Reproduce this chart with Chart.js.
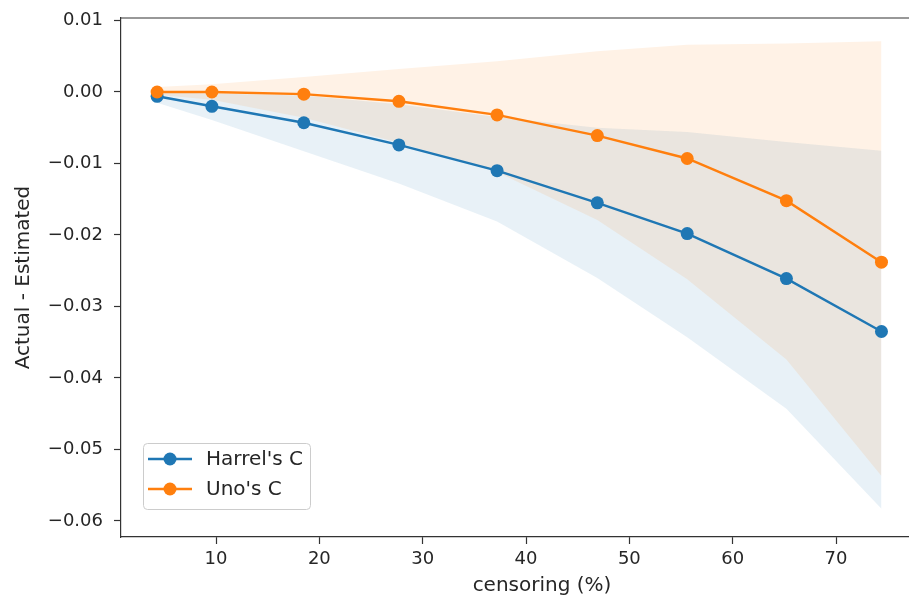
<!DOCTYPE html>
<html>
<head>
<meta charset="utf-8">
<script src="https://cdn.jsdelivr.net/npm/chart.js@4/dist/chart.umd.min.js"></script>
<style>
  html, body { margin: 0; padding: 0; background: #fff; overflow: hidden; }
  #wrap { width: 909px; height: 598px; overflow: hidden; position: relative; }
</style>
</head>
<body>
<div id="wrap">
  <canvas id="myChart" width="970" height="598"></canvas>
</div>
<script>
// censoring level (%) and the mean / band of (actual - estimated)
const censoring = [4.3, 9.6, 18.5, 27.7, 37.2, 46.9, 55.6, 65.2, 74.4];

const harrellMean  = [-0.0006, -0.0020, -0.0043, -0.0074, -0.0110, -0.0155, -0.0198, -0.0261, -0.0335];
const harrellUpper = [0.0000, -0.0002, -0.0005, -0.0017, -0.0035, -0.0050, -0.0056, -0.0070, -0.0082];
const harrellLower = [-0.0015, -0.0039, -0.0083, -0.0128, -0.0181, -0.0260, -0.0343, -0.0443, -0.0583];

const unoMean  = [0.0000, 0.0000, -0.0003, -0.0013, -0.0032, -0.0061, -0.0093, -0.0152, -0.0238];
const unoUpper = [0.0007, 0.0011, 0.0021, 0.0032, 0.0043, 0.0057, 0.0066, 0.0068, 0.0071];
const unoLower = [-0.0004, -0.0011, -0.0036, -0.0071, -0.0112, -0.0179, -0.0262, -0.0374, -0.0537];

const seriesLabels = ["Harrel's C", "Uno's C"];
const xTicks = [10, 20, 30, 40, 50, 60, 70];
const yTicks = [0.01, 0.00, -0.01, -0.02, -0.03, -0.04, -0.05, -0.06];

const blue = '#1f77b4';
const orange = '#ff7f0e';
const font = '"DejaVu Sans", sans-serif';

const pts = (ys) => censoring.map((x, i) => ({ x: x, y: ys[i] }));

const band = (ys, colour, fill, order) => ({
    data: pts(ys),
    borderWidth: 0,
    borderColor: 'rgba(0,0,0,0)',
    backgroundColor: colour,
    pointRadius: 0,
    fill: fill,
    order: order,
});

const line = (label, ys, colour, order) => ({
    label: label,
    data: pts(ys),
    borderColor: colour,
    backgroundColor: colour,
    borderWidth: 2.4,
    pointRadius: 6.5,
    pointBorderWidth: 0,
    pointBackgroundColor: colour,
    fill: false,
    order: order,
});

// top spine + matplotlib-like legend box
const frame = {
    id: 'frame',
    afterDraw(chart) {
        const c = chart.ctx;
        const a = chart.chartArea;
        c.save();
        c.strokeStyle = '#333';
        c.lineWidth = 1.2;
        c.beginPath();
        c.moveTo(a.left, a.top);
        c.lineTo(a.right + 20, a.top);
        c.stroke();

        // legend
        const lx = a.left + 22, ly = a.bottom - 94, lw = 167, lh = 66;
        c.fillStyle = 'rgba(255,255,255,0.8)';
        c.strokeStyle = '#cccccc';
        c.lineWidth = 1;
        c.beginPath();
        c.roundRect(lx + 0.5, ly + 0.5, lw, lh, 4);
        c.fill();
        c.stroke();
        const cols = [blue, orange];
        seriesLabels.forEach((lab, i) => {
            const yy = ly + 16 + i * 30;
            c.strokeStyle = cols[i];
            c.lineWidth = 2.4;
            c.beginPath();
            c.moveTo(lx + 5, yy);
            c.lineTo(lx + 49, yy);
            c.stroke();
            c.fillStyle = cols[i];
            c.beginPath();
            c.arc(lx + 27, yy, 6.5, 0, Math.PI * 2);
            c.fill();
            c.fillStyle = '#262626';
            c.font = '20px ' + font;
            c.textBaseline = 'middle';
            c.textAlign = 'left';
            c.fillText(lab, lx + 63, yy + 1);
        });
        c.restore();
    }
};

const fmtY = (v) => {
    if (Math.abs(v) < 1e-9) return '0.00';
    const s = v.toFixed(2);
    return s.replace('-', '\u2212');
};

const ctx = document.getElementById('myChart');

new Chart(ctx, {
    type: 'line',
    data: {
        datasets: [
            line(seriesLabels[1], unoMean, orange, 0),
            line(seriesLabels[0], harrellMean, blue, 1),
            band(harrellUpper, 'rgba(31,119,180,0.1)', false, 3),
            band(harrellLower, 'rgba(31,119,180,0.1)', '-1', 3),
            band(unoUpper, 'rgba(255,127,14,0.1)', false, 2),
            band(unoLower, 'rgba(255,127,14,0.1)', '-1', 2),
        ]
    },
    options: {
        responsive: false,
        animation: false,
        events: [],
        layout: { padding: { top: 18, right: 7, left: 0, bottom: 0 } },
        plugins: {
            legend: { display: false },
            tooltip: { enabled: false },
        },
        scales: {
            x: {
                type: 'linear',
                min: 0.806,
                max: 82.29,
                afterBuildTicks: (s) => { s.ticks = xTicks.map(v => ({ value: v })); },
                afterFit: (s) => { s.height = 61; s.paddingLeft = 0; s.paddingRight = 0; },
                grid: { drawOnChartArea: false, drawTicks: true, tickLength: 7, tickColor: '#333', tickWidth: 1.2 },
                border: { color: '#333', width: 1.2 },
                ticks: {
                    color: '#262626',
                    font: { family: font, size: 18 },
                    padding: 5,
                    maxRotation: 0,
                    callback: (v) => String(v),
                },
                title: {
                    display: true,
                    text: 'censoring (%)',
                    color: '#262626',
                    font: { family: font, size: 20 },
                    padding: { top: 0, bottom: 0 },
                },
            },
            y: {
                min: -0.06224,
                max: 0.01035,
                afterBuildTicks: (s) => { s.ticks = yTicks.map(v => ({ value: v })); },
                afterFit: (s) => { s.width = 121; s.paddingTop = 0; s.paddingBottom = 0; },
                grid: { drawOnChartArea: false, drawTicks: true, tickLength: 7, tickColor: '#333', tickWidth: 1.2 },
                border: { color: '#333', width: 1.2 },
                ticks: {
                    color: '#262626',
                    font: { family: font, size: 18 },
                    padding: 11,
                    callback: (v) => fmtY(v),
                },
                title: {
                    display: true,
                    text: 'Actual - Estimated',
                    color: '#262626',
                    font: { family: font, size: 20 },
                    padding: { top: 12, bottom: 0 },
                },
            },
        },
    },
    plugins: [frame],
});
</script>
</body>
</html>
